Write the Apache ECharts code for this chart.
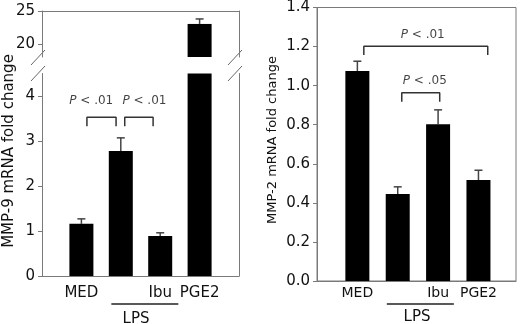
<!DOCTYPE html>
<html>
<head>
<meta charset="utf-8">
<script src="https://cdn.jsdelivr.net/npm/echarts@6/dist/echarts.min.js"></script>
<style>
  html, body { margin: 0; padding: 0; background: #fff; }
  #chart { width: 520px; height: 324px; }
</style>
</head>
<body>
<div id="chart"></div>
<script>
// bar positions on the x value axis (MED, LPS, LPS+Ibu, PGE2)
var xPos = [1, 2, 3, 4]
var labelPos = [1, 3, 4]
var labelText = ['MED', 'Ibu', 'PGE2']
var lpsSpanLeft = [1.76, 3.46]
var lpsSpanRight = [1.73, 3.39]

// MMP-9 (left, broken axis)
var mmp9 = [1.16, 2.78, 0.89, 23.03]
var mmp9Err = [1.27, 3.07, 0.96, 23.79]
var mmp9LowTicks = [0, 1, 2, 3, 4]
var mmp9HighTicks = [20, 25]

// MMP-2 (right)
var mmp2 = [1.075, 0.445, 0.803, 0.517]
var mmp2Err = [1.125, 0.482, 0.876, 0.567]

// significance brackets: [x1, x2, top, leg bottom]
var bracketsLeft = [[1.14, 1.88, 3.53, 3.33], [2.1, 2.82, 3.53, 3.33]]
var bracketsRight = [[1.16, 4.23, 1.202, 1.157], [2.1, 3.04, 0.964, 0.918]]
// p-value texts: [x, y, text]
var pTextLeft = [[1.25, 3.89, '< .01'], [2.6, 3.89, '< .01']]
var pTextRight = [[2.62, 1.258, '< .01'], [2.67, 1.025, '< .05']]

var FONT = 'DejaVu Sans'
var AXIS = '#7a7a7a'
var chart = echarts.init(document.getElementById('chart'))

function bars (vals) {
  return vals.map(function (v, i) { return [xPos[i], v] })
}
function errs (vals, err, keep) {
  var out = []
  vals.forEach(function (v, i) {
    if (keep(v, err[i])) out.push([xPos[i], v, err[i]])
  })
  return out
}
function errorItem (params, api) {
  var x = api.value(0)
  var p1 = api.coord([x, api.value(1)])
  var p2 = api.coord([x, api.value(2)])
  var st = { stroke: '#444', lineWidth: 1.5 }
  return {
    type: 'group',
    children: [
      { type: 'line', shape: { x1: p1[0], y1: p1[1], x2: p2[0], y2: p2[1] }, style: st },
      { type: 'line', shape: { x1: p2[0] - 4, y1: p2[1], x2: p2[0] + 4, y2: p2[1] }, style: st }
    ]
  }
}
function bracketSeries (list, xi, yi) {
  return list.map(function (b) {
    return {
      type: 'line',
      xAxisIndex: xi,
      yAxisIndex: yi,
      symbol: 'none',
      silent: true,
      lineStyle: { color: '#333', width: 1.5 },
      data: [[b[0], b[3]], [b[0], b[2]], [b[1], b[2]], [b[1], b[3]]]
    }
  })
}
function textSeries (list, xi, yi) {
  return {
    type: 'scatter',
    xAxisIndex: xi,
    yAxisIndex: yi,
    symbolSize: 0,
    silent: true,
    data: list.map(function (t) { return { value: [t[0], t[1]], txt: t[2] } }),
    label: {
      show: true,
      position: 'inside',
      color: '#111',
      fontFamily: FONT,
      fontSize: 12,
      formatter: function (p) { return '{p|P} ' + p.data.txt },
      rich: { p: { fontStyle: 'italic', fontFamily: FONT, fontSize: 12, color: '#111' } }
    }
  }
}

var hiddenX = function (grid, max, pos, showLine) {
  return {
    type: 'value', gridIndex: grid, min: 0, max: max, position: pos,
    axisLine: { show: showLine, lineStyle: { color: AXIS } },
    axisTick: { show: false }, axisLabel: { show: false }, splitLine: { show: false }
  }
}
var labelX = function (grid, max, margin, size) {
  return {
    type: 'value', gridIndex: grid, min: 0, max: max,
    axisLine: { show: true, lineStyle: { color: AXIS } },
    axisTick: { show: false },
    splitLine: { show: false },
    axisLabel: {
      customValues: labelPos,
      margin: margin,
      color: '#111', fontFamily: FONT, fontSize: size,
      formatter: function (v) { return labelText[labelPos.indexOf(v)] || '' }
    }
  }
}
var borderY = function (grid, min, max) {
  return {
    type: 'value', gridIndex: grid, min: min, max: max, position: 'right',
    axisLine: { show: true, lineStyle: { color: AXIS } },
    axisTick: { show: false }, axisLabel: { show: false }, splitLine: { show: false }
  }
}
var tickFont = { color: '#111', fontFamily: FONT, fontSize: 15, margin: 7 }

var option = {
  animation: false,
  grid: [
    { left: 42, right: 281, top: 11, bottom: 267 },
    { left: 42, right: 281, top: 73.5, bottom: 48 },
    { left: 317, right: 4, top: 5, bottom: 43, show: true, borderColor: AXIS, borderWidth: 1 }
  ],
  xAxis: [
    hiddenX(0, 5, 'top', true),
    labelX(1, 5, 10, 15),
    labelX(2, 4.93, 5, 14)
  ],
  yAxis: [
    {
      type: 'value', gridIndex: 0, min: 18, max: 25,
      axisLine: { show: true, lineStyle: { color: AXIS } },
      axisTick: { show: true, length: 4, customValues: mmp9HighTicks, lineStyle: { color: AXIS } },
      axisLabel: Object.assign({ customValues: mmp9HighTicks }, tickFont),
      splitLine: { show: false }
    },
    borderY(0, 18, 25),
    {
      type: 'value', gridIndex: 1, min: 0, max: 4.5,
      axisLine: { show: true, lineStyle: { color: AXIS } },
      axisTick: { show: true, length: 4, customValues: mmp9LowTicks, lineStyle: { color: AXIS } },
      axisLabel: Object.assign({ customValues: mmp9LowTicks }, tickFont),
      splitLine: { show: false }
    },
    borderY(1, 0, 4.5),
    {
      type: 'value', gridIndex: 2, min: 0, max: 1.4, interval: 0.2,
      axisLine: { show: true, lineStyle: { color: AXIS } },
      axisTick: { show: true, length: 4, lineStyle: { color: AXIS } },
      axisLabel: Object.assign({ formatter: function (v) { return v.toFixed(1) } }, tickFont),
      splitLine: { show: false }
    }
  ],
  series: [
    { type: 'bar', xAxisIndex: 0, yAxisIndex: 0, barWidth: 24, itemStyle: { color: '#000' }, clip: true, data: bars(mmp9) },
    { type: 'bar', xAxisIndex: 1, yAxisIndex: 2, barWidth: 24, itemStyle: { color: '#000' }, clip: true, data: bars(mmp9) },
    { type: 'bar', xAxisIndex: 2, yAxisIndex: 4, barWidth: 24, itemStyle: { color: '#000' }, data: bars(mmp2) },
    { type: 'custom', xAxisIndex: 0, yAxisIndex: 0, renderItem: errorItem, data: errs(mmp9, mmp9Err, function (v) { return v > 18 }) },
    { type: 'custom', xAxisIndex: 1, yAxisIndex: 2, renderItem: errorItem, data: errs(mmp9, mmp9Err, function (v, e) { return e <= 4.5 }) },
    { type: 'custom', xAxisIndex: 2, yAxisIndex: 4, renderItem: errorItem, data: errs(mmp2, mmp2Err, function () { return true }) }
  ]
    .concat(bracketSeries(bracketsLeft, 1, 2))
    .concat(bracketSeries(bracketsRight, 2, 4))
    .concat([textSeries(pTextLeft, 1, 2), textSeries(pTextRight, 2, 4)])
}
chart.setOption(option)

// annotations below the axes and axis break marks
function px (xi, yi, pt) {
  return chart.convertToPixel({ xAxisIndex: xi, yAxisIndex: yi }, pt)
}
var g = []
function lpsMark (xi, yi, span, lineY, textY, textX) {
  var a = px(xi, yi, [span[0], 0])
  var b = px(xi, yi, [span[1], 0])
  g.push({ type: 'line', shape: { x1: a[0], y1: lineY, x2: b[0], y2: lineY }, style: { stroke: '#222', lineWidth: 1.4 } })
  g.push({ type: 'text', x: textX, y: textY, style: { text: 'LPS', fill: '#111', font: '15px ' + FONT, align: 'center', verticalAlign: 'middle' } })
}
lpsMark(1, 2, lpsSpanLeft, 304, 319, 136)
lpsMark(2, 4, lpsSpanRight, 304, 317, 417)

// break slashes on the left panel
var top0 = px(0, 0, [0, 18])[1]
var bot1 = px(1, 2, [0, 4.5])[1]
var xl = px(1, 2, [0, 0])[0]
var xr = px(1, 2, [5, 0])[0]
;[xl, xr].forEach(function (x) {
  g.push({ type: 'rect', shape: { x: x - 2, y: top0 - 7, width: 4, height: bot1 - top0 + 11 }, style: { fill: '#fff' } })
  ;[0, 16].forEach(function (d) {
    g.push({ type: 'line', shape: { x1: x - 11, y1: 65 + d, x2: x + 3, y2: 50 + d }, style: { stroke: '#666', lineWidth: 1 } })
  })
})

// axis titles
g.push({ type: 'text', x: 9, y: 151, rotation: Math.PI / 2, style: { text: 'MMP-9 mRNA fold change', fill: '#111', font: '15px ' + FONT, align: 'center', verticalAlign: 'middle' } })
g.push({ type: 'text', x: 273, y: 140, rotation: Math.PI / 2, style: { text: 'MMP-2 mRNA fold change', fill: '#111', font: '13px ' + FONT, align: 'center', verticalAlign: 'middle' } })

chart.setOption({ graphic: g })
</script>
</body>
</html>
